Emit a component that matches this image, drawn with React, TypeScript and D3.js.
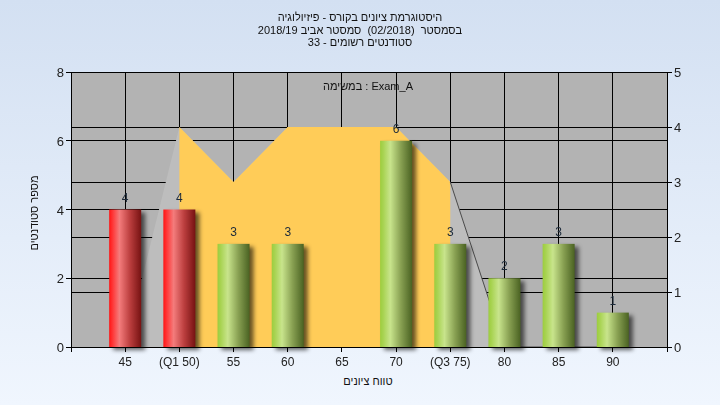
import React from "react";
import * as d3 from "d3";

const categories = ["45", "(Q1 50)", "55", "60", "65", "70", "(Q3 75)", "80", "85", "90"];
const counts = [4, 4, 3, 3, 0, 6, 3, 2, 3, 1];
const barKinds = ["red", "red", "green", "green", "green", "green", "green", "green", "green", "green"];
const curveValues = [0, 4, 3, 4, 4, 4, 3, 0, 0, 0];
const leftTicks = [0, 2, 4, 6, 8];
const rightTicks = [0, 1, 2, 3, 4, 5];
const q1Index = 1;
const q3Index = 6;

const titleLines = [
  "היסטוגרמת ציונים בקורס - פיזיולוגיה",
  "בסמסטר  (02/2018)  סמסטר אביב 2018/19",
  "סטודנטים רשומים - 33",
];
const legendText = "במשימה : Exam_A";
const yTitle = "מספר סטודנטים";
const xTitle = "טווח ציונים";

const W = 720;
const H = 405;
const M = { left: 71, right: 667, top: 72, bottom: 347 };
const FONT = "Arial, 'Liberation Sans', 'DejaVu Sans', sans-serif";

export default function App() {
  const x = d3.scalePoint<string>().domain(categories).range([M.left, M.right]).padding(1);
  const yL = d3.scaleLinear().domain([0, 8]).range([M.bottom, M.top]);
  const yR = d3.scaleLinear().domain([0, 5]).range([M.bottom, M.top]);
  const barW = 32;

  const area = d3
    .area<number>()
    .x((_, i) => x(categories[i]) as number)
    .y0(yR(0))
    .y1((d) => yR(d));
  const areaPath = area(curveValues) || "";
  const xQ1 = x(categories[q1Index]) as number;
  const xQ3 = x(categories[q3Index]) as number;

  const rightLine = d3
    .line<number>()
    .x((_, i) => x(categories[i + q3Index]) as number)
    .y((d) => yR(d));
  const rightLinePath = rightLine(curveValues.slice(q3Index)) || "";

  return (
    <svg
      width={W}
      height={H}
      style={{ position: "fixed", left: 0, top: 0, display: "block" }}
      fontFamily={FONT}
    >
      <defs>
        <linearGradient id="bg" x1="0" y1="0" x2="0" y2="1">
          <stop offset="0%" stopColor="#d3e0f2" />
          <stop offset="100%" stopColor="#f0f6fe" />
        </linearGradient>
        <linearGradient id="red" x1="0" y1="0" x2="1" y2="0">
          <stop offset="0%" stopColor="#ff1414" />
          <stop offset="10%" stopColor="#ff3434" />
          <stop offset="32%" stopColor="#f47c7c" />
          <stop offset="65%" stopColor="#bb3e3e" />
          <stop offset="100%" stopColor="#761212" />
        </linearGradient>
        <linearGradient id="green" x1="0" y1="0" x2="1" y2="0">
          <stop offset="0%" stopColor="#9ccd3e" />
          <stop offset="10%" stopColor="#a8d352" />
          <stop offset="32%" stopColor="#c8e48c" />
          <stop offset="65%" stopColor="#88a052" />
          <stop offset="100%" stopColor="#4a6222" />
        </linearGradient>
        <filter id="blur" x="-50%" y="-50%" width="200%" height="200%">
          <feGaussianBlur stdDeviation="2" />
        </filter>
        <clipPath id="iqr">
          <rect x={xQ1} y={M.top} width={xQ3 - xQ1} height={M.bottom - M.top} />
        </clipPath>
      </defs>

      <rect x={0} y={0} width={W} height={H} fill="url(#bg)" />
      <rect x={M.left} y={M.top} width={M.right - M.left} height={M.bottom - M.top} fill="#b3b3b3" />

      {/* gridlines */}
      <g stroke="#000" strokeWidth={1} shapeRendering="crispEdges">
        {categories.map((c) => (
          <line key={"v" + c} x1={x(c)} x2={x(c)} y1={M.top} y2={M.bottom} />
        ))}
        {leftTicks.map((t) => (
          <line key={"hl" + t} x1={M.left} x2={M.right} y1={yL(t)} y2={yL(t)} />
        ))}
        {rightTicks.map((t) => (
          <line key={"hr" + t} x1={M.left} x2={M.right} y1={yR(t)} y2={yR(t)} />
        ))}
      </g>

      {/* curve area */}
      <path d={areaPath} fill="#bdbdbd" />
      <path d={areaPath} fill="#ffcc58" clipPath="url(#iqr)" />
      <path d={rightLinePath} fill="none" stroke="#4a4a4a" strokeWidth={1} />

      {/* bar shadows */}
      <g filter="url(#blur)">
        {counts.map((v, i) =>
          v > 0 ? (
            <rect
              key={"s" + i}
              x={(x(categories[i]) as number) - barW / 2 + 4}
              y={yL(v) + 3}
              width={barW}
              height={M.bottom - yL(v)}
              fill="#000"
              opacity={0.6}
            />
          ) : null
        )}
      </g>

      {/* bars */}
      {counts.map((v, i) =>
        v > 0 ? (
          <rect
            key={"b" + i}
            x={(x(categories[i]) as number) - barW / 2}
            y={yL(v)}
            width={barW}
            height={M.bottom - yL(v)}
            fill={`url(#${barKinds[i]})`}
          />
        ) : null
      )}

      {/* value labels */}
      {counts.map((v, i) =>
        v > 0 ? (
          <text
            key={"l" + i}
            x={x(categories[i])}
            y={yL(v) - 8}
            textAnchor="middle"
            fontSize={12}
            fill="#1c2a3a"
          >
            {v}
          </text>
        ) : null
      )}

      {/* axes */}
      <g stroke="#000" strokeWidth={1} shapeRendering="crispEdges">
        <line x1={M.left} x2={M.left} y1={M.top} y2={M.bottom + 5} />
        <line x1={M.right} x2={M.right} y1={M.top} y2={M.bottom + 5} />
        <line x1={M.left} x2={M.right} y1={M.bottom} y2={M.bottom} />
        {leftTicks.map((t) => (
          <line key={"lt" + t} x1={M.left - 5} x2={M.left} y1={yL(t)} y2={yL(t)} />
        ))}
        {rightTicks.map((t) => (
          <line key={"rt" + t} x1={M.right} x2={M.right + 5} y1={yR(t)} y2={yR(t)} />
        ))}
        {categories.map((c) => (
          <line key={"bt" + c} x1={x(c)} x2={x(c)} y1={M.bottom} y2={M.bottom + 5} />
        ))}
      </g>
      {leftTicks.map((t) => (
        <text key={"ll" + t} x={M.left - 7} y={yL(t) + 5} textAnchor="end" fontSize={13} fill="#222">
          {t}
        </text>
      ))}
      {rightTicks.map((t) => (
        <text key={"rl" + t} x={M.right + 7} y={yR(t) + 5} textAnchor="start" fontSize={13} fill="#222">
          {t}
        </text>
      ))}
      {categories.map((c) => (
        <text key={"xl" + c} x={x(c)} y={366} textAnchor="middle" fontSize={12} fill="#222">
          {c}
        </text>
      ))}

      {/* titles */}
      {titleLines.map((t, i) => (
        <text
          key={"t" + i}
          x={360}
          y={21 + i * 12.5}
          textAnchor="middle"
          fontSize={11}
          fill="#111"
          style={{ direction: "rtl", unicodeBidi: "embed", whiteSpace: "pre" }}
        >
          {t}
        </text>
      ))}
      <text x={368} y={90} textAnchor="middle" fontSize={11} fill="#111">
        {legendText}
      </text>
      <text
        transform={`translate(38, 213) rotate(-90)`}
        textAnchor="middle"
        fontSize={11}
        fill="#111"
      >
        {yTitle}
      </text>
      <text x={368} y={385} textAnchor="middle" fontSize={11} fill="#111">
        {xTitle}
      </text>
    </svg>
  );
}
